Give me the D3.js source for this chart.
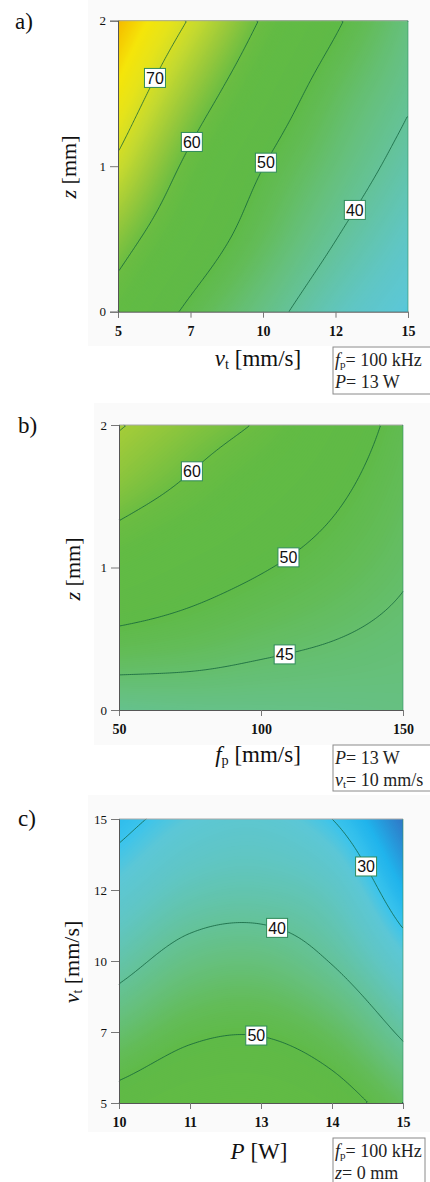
<!DOCTYPE html>
<html>
<head>
<meta charset="utf-8">
<script src="https://cdn.jsdelivr.net/npm/d3@7"></script>
<style>
  body { margin: 0; background: #fff; }
  svg { display: block; font-family: "Liberation Serif", "Times New Roman", serif; }
</style>
</head>
<body>
<svg id="chart" width="430" height="1182"></svg>
<script>
// a) z vs v_t  (fp = 100 kHz, P = 13 W), rows by z, columns by vt
const aVt = [5, 7.5, 10, 12.5, 15];
const aZ = [0, 0.5, 1, 1.5, 2];
const aValues = [
  [57.0, 48.8, 42.3, 36.1, 31.5],
  [62.6, 54.2, 46.7, 40.1, 34.7],
  [68.9, 58.5, 50.1, 43.6, 37.9],
  [74.3, 63.8, 54.7, 46.7, 40.8],
  [79.0, 69.5, 59.4, 50.9, 43.0]
];
const aLevels = [40, 50, 60, 70];
const aLabelAt = [[70, 6.2, 1.62], [60, 7.5, 1.17], [50, 10.1, 1.03], [40, 13.0, 0.72]];
const aXTicks = [5, 7.5, 10, 12.5, 15];
const aXTickLabels = ["5", "7", "10", "12", "15"];
const aYTicks = [0, 1, 2];

// b) z vs f_p  (P = 13 W, vt = 10 mm/s)
const bFp = [50, 75, 100, 125, 150];
const bZ = [0, 0.5, 1, 1.5, 2];
const bValues = [
  [41.4, 41.9, 42.1, 42.3, 42.7],
  [48.7, 47.6, 46.2, 45.1, 44.0],
  [55.9, 53.0, 50.4, 48.0, 45.5],
  [61.8, 58.6, 54.8, 50.9, 46.8],
  [65.3, 62.5, 59.4, 53.9, 48.2]
];
const bLevels = [45, 50, 60, 65];
const bLabelAt = [[60, 76.8, 1.66], [50, 108.6, 1.10], [45, 107.7, 0.45]];
const bXTicks = [50, 100, 150];
const bYTicks = [0, 1, 2];

// c) v_t vs P  (fp = 100 kHz, z = 0 mm)
const cP = [10, 11.25, 12.5, 13.75, 15];
const cVt = [5, 7.5, 10, 12.5, 15];
const cValues = [
  [52.5, 55.7, 56.3, 53.2, 46.5],
  [44.7, 48.8, 49.6, 46.3, 39.1],
  [38.0, 42.4, 43.2, 39.7, 32.7],
  [32.8, 36.5, 37.3, 35.0, 27.1],
  [28.6, 32.0, 33.0, 30.0, 23.0]
];
const cLevels = [30, 40, 50];
const cLabelAt = [[30, 14.38, 13.35], [40, 12.81, 11.32], [50, 12.45, 7.69]];
const cXTicks = [10, 11.25, 12.5, 13.75, 15];
const cXTickLabels = ["10", "11", "13", "14", "15"];
const cYTicks = [5, 7.5, 10, 12.5, 15];
const cYTickLabels = ["5", "7", "10", "12", "15"];

const color = d3.scaleLinear()
  .domain([23, 27, 30, 32, 35, 39, 43, 47, 50, 57, 60, 64, 68, 72, 75, 78, 80])
  .range(["#3078c6", "#20b4ec", "#3cc4ec", "#5cc7d6", "#60c6c4", "#64c3a0", "#66c07e", "#63bc58",
          "#5fba47", "#62bb44", "#6cbd42", "#9ac93b", "#c4d930", "#e6e31a", "#f5e50a", "#f5c400", "#f4a400"])
  .clamp(true);

const panels = [
  { tag: "a)", xs: aVt, ys: aZ, values: aValues, levels: aLevels, labels: aLabelAt,
    xTicks: aXTicks, xTickLabels: aXTickLabels, yTicks: aYTicks, yTickLabels: null,
    xTitle: [["v", "i"], ["t", "sub"], [" [mm/s]", ""]], yTitle: [["z", "i"], [" [mm]", ""]],
    info: [[["f", "i"], ["p", "sub"], ["= 100 kHz", ""]], [["P", "i"], ["= 13 W", ""]]],
    L: { left: 118, right: 408, top: 20.7, bottom: 311.7, tag: [15, 29], bg: [88, 0, 342, 346],
         xLab: [258, 366], yLab: [76, 167], box: [333, 347, 98, 47] } },
  { tag: "b)", xs: bFp, ys: bZ, values: bValues, levels: bLevels, labels: bLabelAt,
    xTicks: bXTicks, xTickLabels: null, yTicks: bYTicks, yTickLabels: null,
    xTitle: [["f", "i"], ["p", "sub"], [" [mm/s]", ""]], yTitle: [["z", "i"], [" [mm]", ""]],
    info: [[["P", "i"], ["= 13 W", ""]], [["v", "i"], ["t", "sub"], ["= 10 mm/s", ""]]],
    L: { left: 119, right: 403, top: 425, bottom: 710, tag: [18, 433], bg: [94, 403, 336, 342],
         xLab: [258, 762], yLab: [80, 569], box: [333, 745, 98, 46] } },
  { tag: "c)", xs: cP, ys: cVt, values: cValues, levels: cLevels, labels: cLabelAt,
    xTicks: cXTicks, xTickLabels: cXTickLabels, yTicks: cYTicks, yTickLabels: cYTickLabels,
    xTitle: [["P", "i"], [" [W]", ""]], yTitle: [["v", "i"], ["t", "sub"], [" [mm/s]", ""]],
    info: [[["f", "i"], ["p", "sub"], ["= 100 kHz", ""]], [["z", "i"], ["= 0 mm", ""]]],
    L: { left: 119, right: 403, top: 819, bottom: 1103, tag: [18, 826], bg: [88, 795, 342, 337],
         xLab: [259, 1159], yLab: [79, 962], box: [333, 1138, 92, 47] } }
];

const svg = d3.select("#chart");
const N = 150;

function catmull(p0, p1, p2, p3, t) {
  return 0.5 * (2 * p1 + (-p0 + p2) * t + (2 * p0 - 5 * p1 + 4 * p2 - p3) * t * t + (-p0 + 3 * p1 - 3 * p2 + p3) * t * t * t);
}
function sample1d(arr, s) {
  const n = arr.length;
  const k = Math.max(0, Math.min(Math.floor(s), n - 2));
  const t = s - k;
  const g = i => i < 0 ? 2 * arr[0] - arr[1] : i > n - 1 ? 2 * arr[n - 1] - arr[n - 2] : arr[i];
  return catmull(g(k - 1), g(k), g(k + 1), g(k + 2), t);
}
function sample2d(rows, sx, sy) {
  return sample1d(rows.map(r => sample1d(r, sx)), sy);
}

function rich(sel, parts) {
  parts.forEach(([txt, st]) => {
    const t = sel.append("tspan").text(txt);
    if (st === "i") t.attr("font-style", "italic");
    if (st === "sub") t.attr("font-size", "0.62em").attr("baseline-shift", "-22%");
  });
}

function splitRing(ring) {
  const same = (a, b) => (a[0] === 0 && b[0] === 0) || (a[0] === N && b[0] === N) ||
                         (a[1] === 0 && b[1] === 0) || (a[1] === N && b[1] === N);
  const out = [];
  let cur = [];
  for (let k = 0; k < ring.length - 1; k++) {
    const a = ring[k], b = ring[k + 1];
    if (same(a, b)) { if (cur.length > 1) out.push(cur); cur = []; }
    else { if (!cur.length) cur.push(a); cur.push(b); }
  }
  if (cur.length > 1) out.push(cur);
  return out;
}

panels.forEach(p => {
  const L = p.L;
  const x0 = p.xs[0], x1 = p.xs[p.xs.length - 1];
  const y0 = p.ys[0], y1 = p.ys[p.ys.length - 1];
  const x = d3.scaleLinear().domain([x0, x1]).range([L.left, L.right]);
  const y = d3.scaleLinear().domain([y0, y1]).range([L.bottom, L.top]);
  const g = svg.append("g");

  g.append("rect").attr("x", L.bg[0]).attr("y", L.bg[1]).attr("width", L.bg[2]).attr("height", L.bg[3])
    .attr("fill", "#fafafa");

  // fine field for the contour library
  const dxs = p.xs[1] - p.xs[0], dys = p.ys[1] - p.ys[0];
  const grid = new Array(N * N);
  for (let j = 0; j < N; j++) {
    const vy = y1 - (j + 0.5) / N * (y1 - y0);
    for (let i = 0; i < N; i++) {
      const vx = x0 + (i + 0.5) / N * (x1 - x0);
      grid[j * N + i] = sample2d(p.values, (vx - x0) / dxs, (vy - y0) / dys);
    }
  }
  const gx = v => x(x0 + v / N * (x1 - x0));
  const gy = v => y(y1 - v / N * (y1 - y0));
  const proj = d3.geoTransform({ point(a, b) { this.stream.point(gx(a), gy(b)); } });
  const path = d3.geoPath(proj);

  const [mn, mx] = d3.extent(grid);
  const fills = d3.contours().size([N, N]).thresholds(d3.range(Math.floor(mn), mx, 0.2))(grid);
  g.append("rect").attr("x", L.left).attr("y", L.top).attr("width", L.right - L.left).attr("height", L.bottom - L.top)
    .attr("fill", color(mn));
  g.append("g").selectAll("path").data(fills).join("path")
    .attr("d", path).attr("fill", d => color(d.value));

  // iso lines
  const iso = d3.contours().size([N, N]).thresholds(p.levels)(grid);
  const line = d3.line().x(d => gx(d[0])).y(d => gy(d[1]));
  const linesByLevel = new Map();
  iso.forEach(c => {
    const pieces = [];
    c.coordinates.forEach(poly => poly.forEach(ring => pieces.push(...splitRing(ring))));
    linesByLevel.set(c.value, pieces);
  });
  const lg = g.append("g").attr("fill", "none").attr("stroke", "#0f5e3a").attr("stroke-width", 0.9).attr("stroke-opacity", 0.85);
  linesByLevel.forEach(pieces => {
    lg.selectAll(null).data(pieces).join("path").attr("d", line);
  });

  // frame
  g.append("line").attr("x1", L.left).attr("x2", L.right).attr("y1", L.top).attr("y2", L.top)
    .attr("stroke", "#a8a8a8").attr("stroke-width", 1);
  g.append("line").attr("x1", L.right).attr("x2", L.right).attr("y1", L.top).attr("y2", L.bottom)
    .attr("stroke", "#2e8f62").attr("stroke-opacity", 0.6).attr("stroke-width", 1);

  // axes
  const xa = d3.axisBottom(x).tickValues(p.xTicks).tickSize(6).tickPadding(8)
    .tickFormat((d, i) => p.xTickLabels ? p.xTickLabels[i] : d);
  const ya = d3.axisLeft(y).tickValues(p.yTicks).tickSize(8).tickPadding(4)
    .tickFormat((d, i) => p.yTickLabels ? p.yTickLabels[i] : d);
  const gxA = g.append("g").attr("transform", `translate(0,${L.bottom})`).call(xa);
  const gyA = g.append("g").attr("transform", `translate(${L.left},0)`).call(ya);
  [gxA, gyA].forEach(a => {
    a.select(".domain").attr("stroke", "#555");
    a.selectAll(".tick line").attr("stroke", "#777");
    a.selectAll(".tick text").attr("font-family", "Liberation Serif, serif").attr("font-size", 14)
      .attr("fill", "#111").attr("font-weight", 600);
  });
  gyA.selectAll(".tick text").attr("font-size", 13).attr("font-weight", 400);

  // contour labels snapped to the nearest line point
  p.labels.forEach(([lev, lx, ly]) => {
    const tx = x(lx), ty = y(ly);
    let best = [tx, ty], bd = Infinity;
    (linesByLevel.get(lev) || []).forEach(pc => pc.forEach(pt => {
      const sx = gx(pt[0]), sy = gy(pt[1]);
      const d = (sx - tx) ** 2 + (sy - ty) ** 2;
      if (d < bd) { bd = d; best = [sx, sy]; }
    }));
    const lbl = g.append("g").attr("transform", `translate(${best[0]},${best[1]})`);
    lbl.append("rect").attr("x", -10.5).attr("y", -9.5).attr("width", 21).attr("height", 19)
      .attr("fill", "#fff").attr("stroke", "#2f8a5a").attr("stroke-width", 1);
    lbl.append("text").attr("text-anchor", "middle").attr("dy", "0.36em")
      .attr("font-family", "Liberation Sans, Arial, sans-serif").attr("font-size", 16).attr("fill", "#111")
      .text(lev);
  });

  // titles
  g.append("text").attr("x", L.tag[0]).attr("y", L.tag[1]).attr("font-size", 23).attr("fill", "#111").text(p.tag);
  const xt = g.append("text").attr("x", L.xLab[0]).attr("y", L.xLab[1]).attr("text-anchor", "middle")
    .attr("font-size", 23).attr("fill", "#111");
  rich(xt, p.xTitle);
  const yt = g.append("text").attr("transform", `translate(${L.yLab[0]},${L.yLab[1]}) rotate(-90)`)
    .attr("text-anchor", "middle").attr("font-size", 22).attr("fill", "#111");
  rich(yt, p.yTitle);

  // condition box
  const b = L.box;
  g.append("rect").attr("x", b[0]).attr("y", b[1]).attr("width", b[2]).attr("height", b[3])
    .attr("fill", "#fff").attr("stroke", "#8a8a8a").attr("stroke-width", 1);
  p.info.forEach((ln, k) => {
    const t = g.append("text").attr("x", b[0] + 2).attr("y", b[1] + 19 + k * 22)
      .attr("font-size", 18).attr("fill", "#222");
    rich(t, ln);
  });
});
</script>
</body>
</html>
